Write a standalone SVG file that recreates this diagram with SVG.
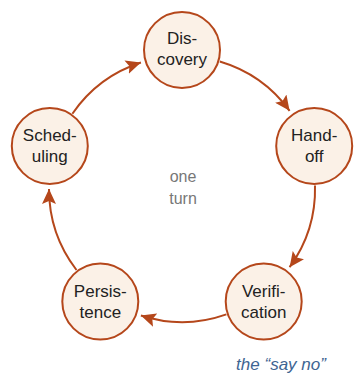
<svg xmlns="http://www.w3.org/2000/svg" width="354" height="375" viewBox="0 0 354 375">
<style>
.node circle{fill:#fbf1e7;stroke:#b5471b;stroke-width:2}
.node text{font-family:"Liberation Sans",Arial,sans-serif;font-size:17px;fill:#222;text-anchor:middle}
.conn path{fill:none;stroke:#b5471b;stroke-width:2;marker-end:url(#ah)}
.center{font-family:"Liberation Sans",Arial,sans-serif;font-size:16px;fill:#777;text-anchor:middle}
.note{font-family:"Liberation Sans",Arial,sans-serif;font-size:17px;font-style:italic;fill:#3e6592;text-anchor:middle}
</style>
<defs>
<marker id="ah" markerUnits="userSpaceOnUse" markerWidth="16" markerHeight="14" refX="15" refY="7" orient="auto">
<path d="M0,0 L15,7 L0,14 L3,7 Z" fill="#b5471b"/>
</marker>
</defs>
<g id="connectors" class="conn">
<path d="M219.8,61.5 A133,133 0 0 1 289.6,110.8"/>
<path d="M315,185.5 A133,133 0 0 1 289.6,267.2"/>
<path d="M226.4,314.4 A133,133 0 0 1 140.9,315.5"/>
<path d="M76.5,270 A133,133 0 0 1 49,189"/>
<path d="M72.4,113.7 A133,133 0 0 1 140.9,62.5"/>
</g>
<g id="discovery" class="node"><circle cx="182" cy="50" r="38"/><text x="182" y="44">Dis-</text><text x="182" y="65">covery</text></g>
<g id="handoff" class="node"><circle cx="314.2" cy="146" r="38"/><text x="314.2" y="141">Hand-</text><text x="314.2" y="162">off</text></g>
<g id="verification" class="node"><circle cx="263.7" cy="301.5" r="38"/><text x="263.7" y="297">Verifi-</text><text x="263.7" y="318">cation</text></g>
<g id="persistence" class="node"><circle cx="100.3" cy="301.5" r="38"/><text x="100.3" y="297">Persis-</text><text x="100.3" y="318">tence</text></g>
<g id="scheduling" class="node"><circle cx="49.8" cy="146" r="38"/><text x="49.8" y="141">Sched-</text><text x="49.8" y="162">uling</text></g>
<text class="center" x="183" y="182">one</text>
<text class="center" x="183" y="204">turn</text>
<text class="note" x="281" y="370">the “say no”</text>
</svg>
